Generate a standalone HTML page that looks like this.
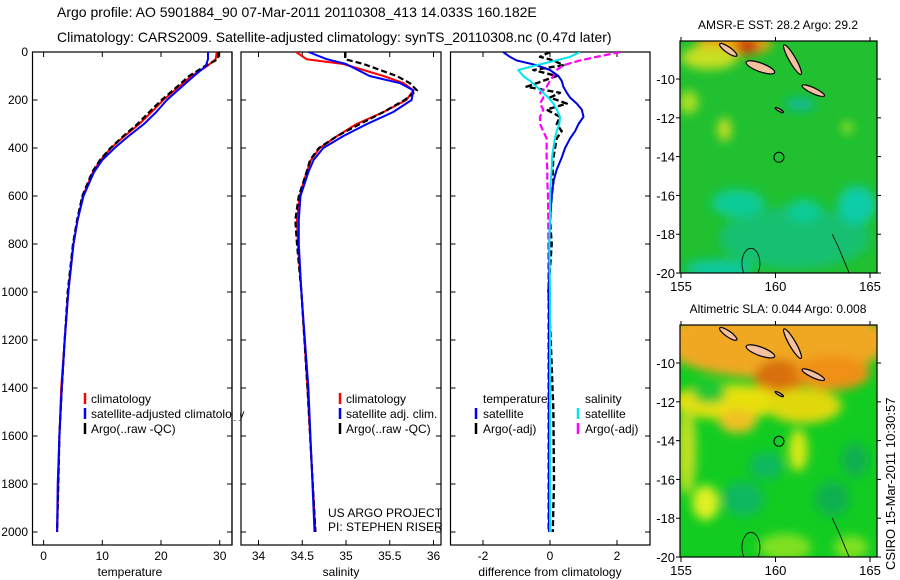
<!DOCTYPE html>
<html><head><meta charset="utf-8"><style>
html,body{margin:0;padding:0;background:#fff;}
svg{display:block;font-family:"Liberation Sans",sans-serif;}
</style></head><body>
<svg id="fig" width="900" height="580" viewBox="0 0 900 580">
<defs>
<filter id="blur1" x="-50%" y="-50%" width="200%" height="200%"><feGaussianBlur stdDeviation="5"/></filter>
<clipPath id="clipMap1"><rect x="680" y="41" width="197" height="232"/></clipPath>
<clipPath id="clipMap2"><rect x="680" y="325" width="197" height="232"/></clipPath>
<clipPath id="clipP1"><rect x="32" y="52" width="200" height="493"/></clipPath>
<clipPath id="clipP2"><rect x="241" y="52" width="200" height="493"/></clipPath>
<clipPath id="clipP3"><rect x="450" y="52" width="200" height="493"/></clipPath>
</defs>
<text x="57" y="17" font-size="14">Argo profile: AO 5901884_90 07-Mar-2011 20110308_413 14.033S 160.182E</text>
<text x="57" y="42" font-size="14">Climatology: CARS2009. Satellite-adjusted climatology: synTS_20110308.nc (0.47d later)</text>
<g id="plots"></g>
<g id="maps"></g>
<text transform="translate(895,570) rotate(-90)" font-size="13">CSIRO 15-Mar-2011 10:30:57</text>
</svg>
<script>
// ---- data ----
const depthT = [0, 30, 60, 100, 150, 200, 250, 300, 350, 400, 450, 500, 600, 700, 800, 1000, 1200, 1400, 1600, 1800, 2000];
const tempClim = [29.5, 29.3, 27.8, 25.2, 22.8, 20.4, 18.4, 16.3, 13.8, 11.5, 9.7, 8.4, 6.7, 5.8, 5.1, 4.2, 3.6, 3.0, 2.7, 2.5, 2.3];
const tempSat  = [28.0, 28.0, 27.6, 25.6, 23.3, 21.0, 19.2, 17.1, 14.5, 12.1, 10.0, 8.6, 6.8, 5.8, 5.1, 4.2, 3.6, 3.1, 2.7, 2.4, 2.3];
const tempArgo = [29.8, 29.7, 27.4, 24.8, 22.5, 20.1, 18.0, 16.0, 13.6, 11.4, 9.6, 8.3, 6.6, 5.7, 5.0, 4.1, 3.6, 3.1, 2.7, 2.5, 2.3];
const depthS = [0, 30, 50, 100, 130, 160, 200, 250, 300, 350, 400, 450, 500, 600, 700, 800, 1000, 1400, 2000];
const salClim = [34.43, 34.55, 34.97, 35.43, 35.66, 35.77, 35.69, 35.43, 35.12, 34.90, 34.70, 34.60, 34.55, 34.47, 34.44, 34.45, 34.49, 34.56, 34.65];
const salSat  = [34.57, 34.78, 35.00, 35.27, 35.62, 35.77, 35.75, 35.54, 35.24, 34.97, 34.74, 34.63, 34.57, 34.48, 34.46, 34.46, 34.49, 34.57, 34.64];
const salArgo = [34.99, 34.99, 35.20, 35.58, 35.73, 35.81, 35.67, 35.43, 35.16, 34.90, 34.69, 34.59, 34.55, 34.46, 34.42, 34.44, 34.49, 34.56, 34.65];
const depthD = [0, 20, 35, 55, 75, 100, 120, 145, 170, 190, 215, 240, 270, 300, 330, 360, 400, 440, 490, 540, 600, 700, 800, 1000, 1200, 1500, 1800, 2000];
const diffTSat  = [-1.4, -1.2, -1.0, -0.4, 0.0, 0.25, 0.35, 0.4, 0.5, 0.6, 0.8, 0.95, 1.0, 0.85, 0.75, 0.6, 0.45, 0.35, 0.2, 0.1, 0.05, 0.0, -0.02, -0.03, -0.03, -0.03, -0.03, -0.03];
const diffSSat  = [0.9, 0.6, 0.2, -0.4, -0.95, -0.8, -0.6, -0.4, -0.2, -0.05, 0.1, 0.2, 0.3, 0.28, 0.2, 0.15, 0.1, 0.06, 0.05, 0.02, 0.0, 0.0, -0.02, 0.0, 0.0, 0.0, 0.0, 0.0];
const diffSArgo = [2.1, 1.4, 0.9, 0.4, 0.2, 0.1, 0.0, -0.1, -0.3, -0.2, -0.3, -0.2, -0.3, -0.3, -0.2, -0.1, -0.1, -0.1, -0.08, -0.08, -0.06, -0.05, -0.05, -0.05, -0.05, -0.05, -0.05, -0.05];
const diffTArgo = [0.0, -0.3, 0.1, 0.4, -0.5, 0.2, -0.2, -0.7, 0.3, 0.0, 0.5, -0.1, 0.3, 0.2, 0.35, 0.2, 0.15, 0.1, 0.08, 0.1, 0.05, 0.0, 0.05, -0.05, 0.02, 0.1, 0.12, 0.08];
const tempTicks = [0, 10, 20, 30];
const salTicks = [34, 34.5, 35, 35.5, 36];
const salTickLabels = ["34", "34.5", "35", "35.5", "36"];
const diffTicks = [-2, 0, 2];
const depthTicks = [0, 200, 400, 600, 800, 1000, 1200, 1400, 1600, 1800, 2000];
const lonTicks = [155, 160, 165];
const latTicks = [-10, -12, -14, -16, -18, -20];

const NS = "http://www.w3.org/2000/svg";
function mk(tag, attrs, parent) {
  const e = document.createElementNS(NS, tag);
  for (const k in attrs) e.setAttribute(k, attrs[k]);
  parent.appendChild(e);
  return e;
}
const plots = document.getElementById('plots');
const yD = d => 52 + d * 0.24;
const xT = t => 43.6 + t * 5.87;
const xS = s => 258.5 + (s - 34) * 87.5;
const xDf = v => 550 + v * 33.5;

function panel(x0, x1, name) {
  const g = mk('g', {}, plots);
  
  
  const r = mk('rect', {x: x0, y: 52, width: x1 - x0, height: 493, fill: 'none', stroke: '#000', 'stroke-width': 1.2}, g);
  
  
  depthTicks.forEach(d => {
    mk('line', {x1: x0, x2: x0 + 5, y1: yD(d), y2: yD(d), stroke: '#000'}, g);
    mk('line', {x1: x1, x2: x1 - 5, y1: yD(d), y2: yD(d), stroke: '#000'}, g);
  });
  return g;
}
function xticks(g, ticks, labels, fx) {
  ticks.forEach((t, i) => {
    mk('line', {x1: fx(t), x2: fx(t), y1: 545, y2: 540, stroke: '#000'}, g);
    mk('line', {x1: fx(t), x2: fx(t), y1: 52, y2: 57, stroke: '#000'}, g);
    const tx = mk('text', {x: fx(t), y: 560, 'font-size': 12, 'text-anchor': 'middle'}, g);
    tx.textContent = labels[i];
    
    
  });
}
function line(g, xs, ds, fx, color, dash, w, name, clip) {
  const pts = xs.map((v, i) => fx(v).toFixed(1) + ',' + yD(ds[i]).toFixed(1)).join(' ');
  const p = mk('polyline', {points: pts, fill: 'none', stroke: color, 'stroke-width': w, 'stroke-linejoin': 'round', 'clip-path': 'url(#' + clip + ')'}, g);
  if (dash) p.setAttribute('stroke-dasharray', dash);
  
  
}
function txt(g, x, y, s, name, size, anchor) {
  const t = mk('text', {x: x, y: y, 'font-size': size || 12}, g);
  if (anchor) t.setAttribute('text-anchor', anchor);
  t.textContent = s;
  
  
  return t;
}
function legBar(g, x, y, c) {
  mk('line', {x1: x, x2: x, y1: y - 10, y2: y + 1, stroke: c, 'stroke-width': 2.5}, g);
}

// Panel 1 temperature
const g1 = panel(32.5, 232, 'temperature-panel');
depthTicks.forEach(d => {
  txt(g1, 28, yD(d) + 4, String(d), 'y-tick-label', 12, 'end');
});
xticks(g1, tempTicks, tempTicks.map(String), xT);
txt(g1, 130, 576, 'temperature', 'x-axis-title', 12, 'middle');
line(g1, tempClim, depthT, xT, '#ff0000', null, 2, 'temp-climatology-line', 'clipP1');
line(g1, tempArgo, depthT, xT, '#000', '6,3', 2.2, 'temp-argo-line', 'clipP1');
line(g1, tempSat, depthT, xT, '#0000ff', null, 2, 'temp-satellite-line', 'clipP1');
legBar(g1, 85, 403, '#f00'); txt(g1, 91, 403, 'climatology', 'legend-climatology');
legBar(g1, 85, 418, '#00f'); txt(g1, 91, 418, 'satellite-adjusted climatology', 'legend-satellite');
legBar(g1, 85, 433, '#000'); txt(g1, 91, 433, 'Argo(..raw -QC)', 'legend-argo');
mk('rect', {x: 232.6, y: 390, width: 7.6, height: 30, fill: '#fff'}, g1);
mk('line', {x1: 232, x2: 232, y1: 52, y2: 545, stroke: '#000', 'stroke-width': 1.2}, g1);

// Panel 2 salinity
const g2 = panel(241, 441, 'salinity-panel');
xticks(g2, salTicks, salTickLabels, xS);
txt(g2, 341, 576, 'salinity', 'x-axis-title', 12, 'middle');
line(g2, salClim, depthS, xS, '#ff0000', null, 2, 'sal-climatology-line', 'clipP2');
line(g2, salArgo, depthS, xS, '#000', '6,3', 2.2, 'sal-argo-line', 'clipP2');
line(g2, salSat, depthS, xS, '#0000ff', null, 2, 'sal-satellite-line', 'clipP2');
legBar(g2, 340, 403, '#f00'); txt(g2, 346, 403, 'climatology', 'legend-climatology');
legBar(g2, 340, 418, '#00f'); txt(g2, 346, 418, 'satellite adj. clim.', 'legend-satellite');
legBar(g2, 340, 433, '#000'); txt(g2, 346, 433, 'Argo(..raw -QC)', 'legend-argo');
txt(g2, 328, 517, 'US ARGO PROJECT', 'project-label');
txt(g2, 328, 531, 'PI: STEPHEN RISER', 'pi-label');

// Panel 3 difference
const g3 = panel(450.5, 650, 'difference-panel');
xticks(g3, diffTicks, diffTicks.map(String), xDf);
txt(g3, 550, 576, 'difference from climatology', 'x-axis-title', 12, 'middle');
line(g3, diffTArgo, depthD, xDf, '#000', '6,3', 2.4, 'temp-argo-diff-line', 'clipP3');
line(g3, diffSArgo, depthD, xDf, '#ff00ff', '7,3', 2.2, 'sal-argo-diff-line', 'clipP3');
line(g3, diffTSat, depthD, xDf, '#0000dd', null, 2, 'temp-satellite-diff-line', 'clipP3');
line(g3, diffSSat, depthD, xDf, '#00e5ee', null, 2, 'sal-satellite-diff-line', 'clipP3');
txt(g3, 483, 403, 'temperature', 'legend-temperature-heading');
legBar(g3, 476, 418, '#00f'); txt(g3, 483, 418, 'satellite', 'legend-temp-satellite');
legBar(g3, 476, 433, '#000'); txt(g3, 483, 433, 'Argo(-adj)', 'legend-temp-argo');
txt(g3, 585, 403, 'salinity', 'legend-salinity-heading');
legBar(g3, 578, 418, '#00e5ee'); txt(g3, 585, 418, 'satellite', 'legend-sal-satellite');
legBar(g3, 578, 433, '#f0f'); txt(g3, 585, 433, 'Argo(-adj)', 'legend-sal-argo');

// ---- maps ----
const maps = document.getElementById('maps');
const lonX = lon => 681 + (lon - 155) * 18.9;
function latY(top, lat) { return top + (-8.04 - lat) * 19.4; }

const sstBase = '#20c030';
const sstBlobs = [
  [157.8, -8.2, 2.0, 0.6, '#f0a010'],
  [158.5, -8.3, 0.6, 0.4, '#c83010'],
  [156.5, -8.9, 1.5, 0.6, '#c8e020'],
  [155.4, -11.2, 0.5, 0.6, '#b0e020'],
  [157.3, -12.6, 0.35, 0.6, '#d0e020'],
  [163.8, -12.5, 0.3, 0.3, '#a0e020'],
  [161.0, -18.2, 4.0, 1.6, '#18c070'],
  [158.0, -16.4, 1.4, 0.7, '#10cc98'],
  [164.3, -16.5, 1.0, 1.0, '#10cca8'],
  [161.5, -16.8, 0.9, 0.6, '#10cc98'],
  [157.0, -19.8, 1.8, 0.5, '#10c8a0'],
  [161.3, -11.3, 0.8, 0.3, '#10b8a0']
];
const slaBase = '#12cc22';
const slaBlobs = [
  [160, -8.9, 6.0, 1.9, '#f0a820'],
  [160.2, -10.8, 1.3, 1.0, '#d87010'],
  [163.0, -10.5, 2.0, 0.9, '#f09018'],
  [157.5, -12.0, 3.0, 0.9, '#e8e010'],
  [161.5, -12.2, 2.0, 0.9, '#e0d810'],
  [158.0, -13.0, 1.0, 0.6, '#f0c020'],
  [161.2, -14.5, 0.5, 1.1, '#d8e818'],
  [156.3, -17.2, 0.7, 0.9, '#e0f020'],
  [156.5, -11.5, 0.9, 0.6, '#20c830'],
  [155.3, -14.5, 0.5, 2.3, '#c0e020'],
  [159.5, -15.3, 0.9, 0.7, '#10b860'],
  [158.3, -17.0, 1.1, 0.9, '#10b860'],
  [164.2, -15.0, 0.7, 0.9, '#10b050'],
  [163.0, -17.0, 0.9, 0.9, '#10b050'],
  [160.5, -19.5, 1.4, 0.7, '#80e020'],
  [164.0, -19.5, 0.9, 0.6, '#80e020']
];
const islands = [
  // lon, lat, rx, ry, rotation(deg)
  [157.5, -8.5, 0.55, 0.15, 35],
  [159.2, -9.4, 0.8, 0.22, 20],
  [160.9, -9.0, 0.9, 0.17, 60],
  [162.0, -10.6, 0.65, 0.15, 25],
  [160.2, -11.6, 0.25, 0.06, 30]
];
const coastNC = [[163.0, -18.0], [163.3, -18.6], [163.6, -19.3], [163.9, -20.0]];

function drawMap(top, clip, base, blobs, title, name) {
  const g = mk('g', {}, maps);
  
  
  const inner = mk('g', {'clip-path': 'url(#' + clip + ')'}, g);
  mk('rect', {x: 680, y: top, width: 197, height: 232, fill: base}, inner);
  const bl = mk('g', {filter: 'url(#blur1)'}, inner);
  blobs.forEach(b => {
    mk('ellipse', {cx: lonX(b[0]), cy: latY(top, b[1]), rx: b[2] * 18.9, ry: b[3] * 19.4, fill: b[4]}, bl);
  });
  islands.forEach(s => {
    const cx = lonX(s[0]), cy = latY(top, s[1]);
    mk('ellipse', {cx: cx, cy: cy, rx: s[2] * 18.9, ry: s[3] * 19.4, fill: '#f5c0a0', stroke: '#000', 'stroke-width': 1.2, transform: 'rotate(' + s[4] + ' ' + cx + ' ' + cy + ')'}, inner);
  });
  mk('polyline', {points: coastNC.map(p => lonX(p[0]) + ',' + latY(top, p[1])).join(' '), fill: 'none', stroke: '#000', 'stroke-width': 0.8}, inner);
  mk('ellipse', {cx: lonX(158.7), cy: latY(top, -19.5), rx: 9, ry: 15, fill: 'none', stroke: '#000', 'stroke-width': 0.8}, inner);
  const fl = mk('circle', {cx: lonX(160.182), cy: latY(top, -14.033), r: 5, fill: 'none', stroke: '#000', 'stroke-width': 1}, inner);
  
  
  const fr = mk('rect', {x: 680, y: top, width: 197, height: 232, fill: 'none', stroke: '#000', 'stroke-width': 1.2}, g);
  
  
  lonTicks.forEach(l => {
    mk('line', {x1: lonX(l), x2: lonX(l), y1: top + 232, y2: top + 237, stroke: '#000'}, g);
    mk('line', {x1: lonX(l), x2: lonX(l), y1: top, y2: top - 4, stroke: '#000'}, g);
    txt(g, lonX(l), top + 250, String(l), 'lon-tick-label', 13, 'middle');
  });
  latTicks.forEach(l => {
    mk('line', {x1: 680, x2: 676, y1: latY(top, l), y2: latY(top, l), stroke: '#000'}, g);
    mk('line', {x1: 877, x2: 881, y1: latY(top, l), y2: latY(top, l), stroke: '#000'}, g);
    txt(g, 675, latY(top, l) + 5, String(l), 'lat-tick-label', 13, 'end');
  });
  txt(g, 778, top - 12, title, name + '-title', 12, 'middle');
}
drawMap(41, 'clipMap1', sstBase, sstBlobs, 'AMSR-E SST: 28.2 Argo: 29.2', 'sst-map');
drawMap(325, 'clipMap2', slaBase, slaBlobs, 'Altimetric SLA: 0.044 Argo: 0.008', 'sla-map');
</script>
</body></html>
